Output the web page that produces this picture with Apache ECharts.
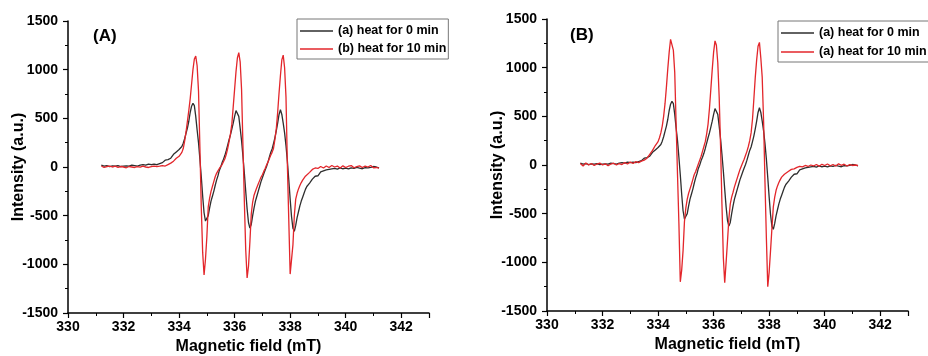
<!DOCTYPE html>
<html><head><meta charset="utf-8">
<script src="https://cdn.jsdelivr.net/npm/echarts@6/dist/echarts.min.js"></script>
<style>html,body{margin:0;padding:0;background:#fff}#c{width:928px;height:356px}</style>
</head><body><div id="c"></div>
<script>
// Magnetic field (mT)
const field = [
331.2,331.3,331.4,331.5,331.6,331.7,331.8,331.9,332.0,332.1,332.2,332.3,332.4,332.5,332.6,332.7,332.8,332.9,333.0,333.1,333.2,333.3,333.4,333.5,333.6,333.7,333.8,333.9,
334.00,334.05,334.10,334.15,334.20,334.25,334.30,334.35,334.40,334.45,
334.50,334.55,334.60,334.65,334.70,334.75,334.80,334.85,334.90,334.95,
335.00,335.05,335.10,335.15,335.20,335.25,335.30,335.35,335.40,335.45,
335.50,335.55,335.60,335.65,335.70,335.75,335.80,335.85,335.90,335.95,
336.00,336.05,336.10,336.15,336.20,336.25,336.30,336.35,336.40,336.45,
336.50,336.55,336.60,336.65,336.70,336.75,336.80,336.85,336.90,336.95,
337.00,337.05,337.10,337.15,337.20,337.25,337.30,337.35,337.40,337.45,
337.50,337.55,337.60,337.65,337.70,337.75,337.80,337.85,337.90,337.95,
338.00,338.05,338.10,338.15,338.20,338.25,338.30,338.35,338.40,338.45,
338.50,338.55,338.60,
338.7,338.8,338.9,339.0,339.1,339.2,339.3,339.4,339.5,339.6,339.7,339.8,339.9,340.0,340.1,340.2,340.3,340.4,340.5,340.6,340.7,340.8,340.9,341.0,341.1,341.2
];
// (a) heat for 0 min (same trace in both panels)
const heat0 = [
20,10,15,5,12,8,15,5,10,12,8,20,15,10,20,25,20,30,25,30,25,35,45,70,75,90,130,155,
180,195,210,245,290,345,400,470,560,625,
655,630,520,380,250,80,-100,-300,-470,-555,
-565,-500,-420,-350,-300,-250,-190,-135,-90,-35,
0,45,80,120,170,225,280,330,390,450,
520,580,592,520,400,270,110,-60,-250,-430,
-570,-628,-590,-500,-420,-350,-300,-250,-200,-150,
-110,-70,-30,5,50,100,150,185,240,300,
370,450,540,588,540,450,350,220,60,-130,
-330,-510,-630,-660,-600,-520,-460,-400,-350,-310,
-270,-230,-200,
-165,-125,-95,-90,-50,-40,-30,-25,-20,-15,-22,-10,-18,-12,-20,-8,-15,-5,-12,-18,-6,-10,-3,5,0,-10
];
// Panel A: (b) heat for 10 min
const heat10A = [
10,-5,5,10,0,8,-3,5,0,-8,5,0,-5,3,-2,8,0,-5,5,10,5,8,15,10,25,40,60,90,
110,125,150,190,265,360,470,580,700,850,
1000,1110,1140,1040,780,200,-420,-880,-1110,-950,
-720,-410,-320,-250,-200,-150,-100,-65,-40,-15,
5,25,45,85,130,190,260,340,440,620,
800,980,1120,1175,1080,800,220,-350,-850,-1140,
-1020,-770,-480,-360,-290,-250,-210,-175,-140,-105,
-80,-45,-15,20,50,85,120,150,190,280,
390,560,760,940,1100,1150,1020,720,20,-540,
-1100,-1080,-800,-500,-330,-270,-225,-190,-160,-135,
-115,-95,-80,
-55,-25,-10,-15,5,-10,10,-5,15,0,10,-10,12,-5,8,15,-8,5,12,-5,10,0,15,-8,-5,-12
];
// Panel B: (a) heat for 10 min
const heat10B = [
15,-10,20,0,15,-5,10,20,0,12,-8,10,18,0,15,5,25,10,30,15,35,25,40,50,70,110,150,200,
240,280,330,400,500,630,800,990,1160,1290,
1310,1180,950,420,-100,-600,-1200,-1080,-880,-580,
-440,-350,-290,-245,-200,-150,-100,-70,-30,10,
50,90,140,190,240,320,420,580,780,980,
1160,1275,1230,1050,700,200,-400,-950,-1210,-1000,
-780,-550,-400,-330,-280,-225,-180,-135,-90,-45,
-10,25,60,100,140,190,250,330,470,680,
900,1080,1220,1260,1100,900,450,-180,-750,-1250,
-1100,-880,-650,-430,-330,-260,-215,-180,-150,-125,
-110,-95,-80,
-65,-45,-40,-25,-15,-20,-5,-15,0,-10,5,-12,8,-5,10,-8,5,-10,12,-3,8,-10,5,-5,0,-5
];
const namesA = ['(a) heat for 0 min', '(b) heat for 10 min'];
const namesB = ['(a) heat for 0 min', '(a) heat for 10 min'];
const panelLabels = ['(A)', '(B)'];
const xRange = [330, 343], xStep = 2;
const yRange = [-1500, 1500], yStep = 500;

const FONT = '"Liberation Sans", Arial, Helvetica, sans-serif';
const BLACK = '#2e2e2e', RED = '#e3262b';
const pairs = ys => field.map((x, i) => [x, ys[i]]);

function xAx(gi) {
  return {
    type: 'value', gridIndex: gi, min: xRange[0], max: xRange[1], interval: xStep,
    name: 'Magnetic field (mT)', nameLocation: 'middle', nameGap: 26, nameMoveOverlap: false,
    nameTextStyle: {fontFamily: FONT, fontSize: 16, fontWeight: 'bold', color: '#000'},
    axisLine: {show: true, onZero: false, lineStyle: {color: '#000', width: 1.5}},
    axisTick: {show: true, length: 5, lineStyle: {color: '#000', width: 1.2}},
    minorTick: {show: true, splitNumber: 2, length: 3, lineStyle: {color: '#000', width: 1}},
    axisLabel: {fontFamily: FONT, fontSize: 14, fontWeight: 'bold', color: '#000', margin: 7, showMaxLabel: false,
      formatter: v => String(v)},
    splitLine: {show: false}, minorSplitLine: {show: false}
  };
}
function yAx(gi) {
  return {
    type: 'value', gridIndex: gi, min: yRange[0], max: yRange[1], interval: yStep,
    name: 'Intensity (a.u.)', nameLocation: 'middle', nameGap: 41, nameMoveOverlap: false,
    nameTextStyle: {fontFamily: FONT, fontSize: 16, fontWeight: 'bold', color: '#000'},
    axisLine: {show: true, onZero: false, lineStyle: {color: '#000', width: 1.5}},
    axisTick: {show: true, length: 5, lineStyle: {color: '#000', width: 1.2}},
    minorTick: {show: true, splitNumber: 2, length: 3, lineStyle: {color: '#000', width: 1}},
    axisLabel: {fontFamily: FONT, fontSize: 14, fontWeight: 'bold', color: '#000', margin: 10,
      formatter: v => String(v)},
    splitLine: {show: false}, minorSplitLine: {show: false}
  };
}
function ser(name, ys, xi, color) {
  return {
    type: 'line', name: name, xAxisIndex: xi, yAxisIndex: xi, data: pairs(ys),
    symbol: 'none', showSymbol: false, lineStyle: {color: color, width: 1.3},
    itemStyle: {color: color}, emphasis: {disabled: true}, animation: false, clip: false
  };
}
function leg(names, left, top, padLeft, itemGap) {
  return {
    orient: 'vertical', left: left, top: top, padding: [5, 2, 3, padLeft],
    icon: 'rect', itemWidth: 33, itemHeight: 1.5, itemGap: itemGap,
    borderColor: '#777', borderWidth: 1, backgroundColor: '#fff',
    data: names, selectedMode: false,
    textStyle: {fontFamily: FONT, fontSize: 12.5, fontWeight: 'bold', color: '#000', lineHeight: 14}
  };
}

const chart = echarts.init(document.getElementById('c'), null, {renderer: 'canvas'});
chart.setOption({
  backgroundColor: '#fff',
  animation: false,
  grid: [
    {left: 68, top: 21, width: 361, height: 292, outerBoundsMode: 'none', containLabel: false},
    {left: 547, top: 19, width: 361, height: 292, outerBoundsMode: 'none', containLabel: false}
  ],
  xAxis: [xAx(0), xAx(1)],
  yAxis: [yAx(0), yAx(1)],
  legend: [leg(namesA, 297, 19, 3, 4), leg(namesB, 778, 21, 3, 5)],
  series: [
    ser(namesA[0], heat0, 0, BLACK),
    ser(namesA[1], heat10A, 0, RED),
    ser(namesB[0], heat0, 1, BLACK),
    ser(namesB[1], heat10B, 1, RED)
  ],
  graphic: [
    {type: 'text', left: 93, top: 28, style: {text: panelLabels[0], font: 'bold 17px ' + FONT, fill: '#000'}},
    {type: 'text', left: 570, top: 27, style: {text: panelLabels[1], font: 'bold 17px ' + FONT, fill: '#000'}}
  ]
});
</script>
</body></html>
